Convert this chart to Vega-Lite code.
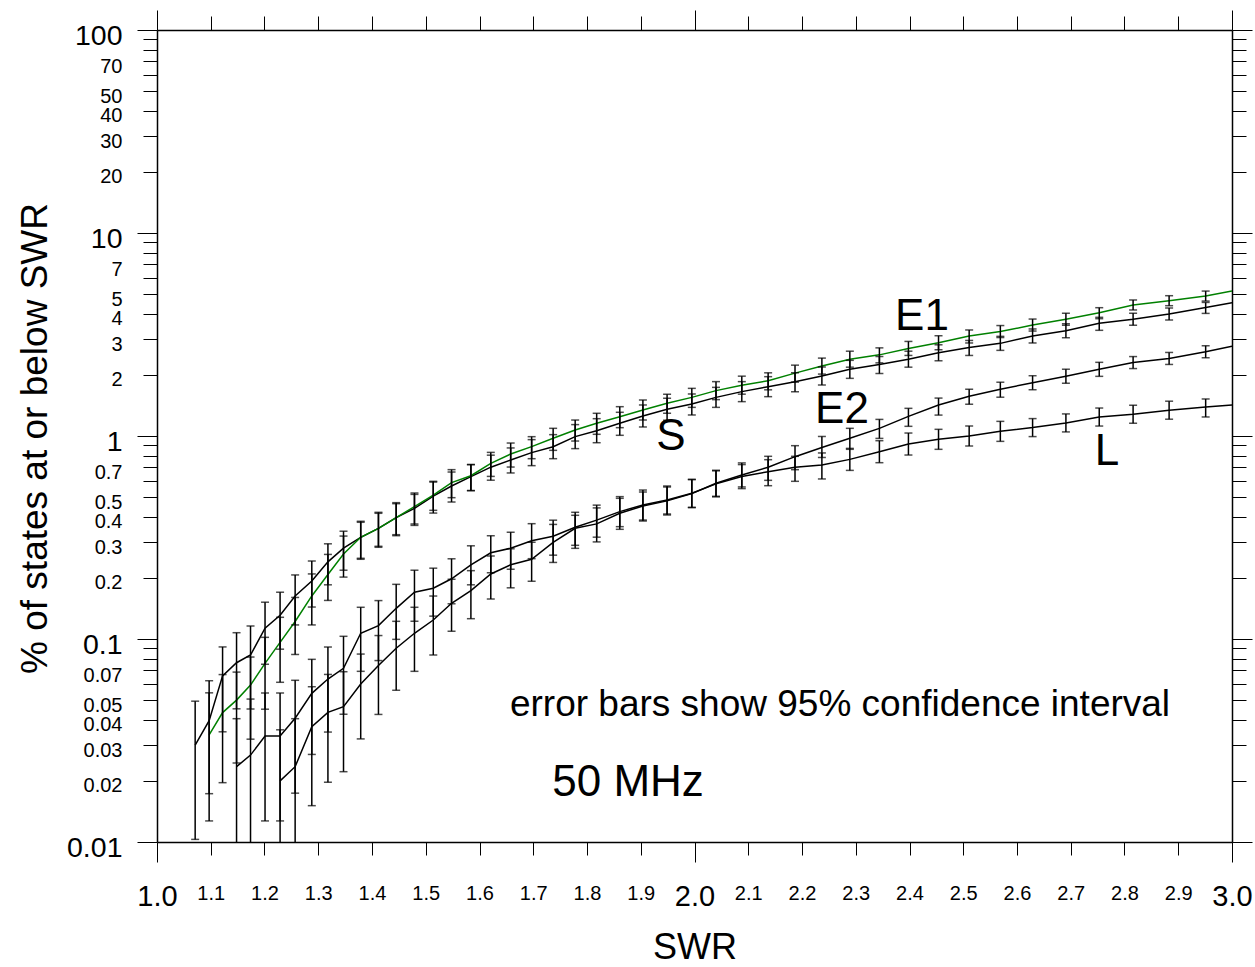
{
"$schema": "https://vega.github.io/schema/vega-lite/v6.json",
"width": 1075, "height": 812,
"autosize": {"type": "none"},
"padding": {"left": 157, "top": 30, "right": 23, "bottom": 125},
"background": "white",
"config": {"view": {"stroke": null}, "font": "Liberation Sans"},
"datasets": {
"pts": [
{"x":1.071,"s":"S","v":0.030,"lo":0.0103,"hi":0.0494},
{"x":1.097,"s":"S","v":0.0396,"lo":0.0173,"hi":0.0623},
{"x":1.122,"s":"S","v":0.0658,"lo":0.0349,"hi":0.0914},
{"x":1.148,"s":"S","v":0.0764,"lo":0.0453,"hi":0.1074},
{"x":1.174,"s":"S","v":0.0834,"lo":0.0452,"hi":0.1159},
{"x":1.201,"s":"S","v":0.113,"lo":0.0751,"hi":0.1518},
{"x":1.229,"s":"S","v":0.131,"lo":0.0891,"hi":0.170},
{"x":1.257,"s":"S","v":0.163,"lo":0.1173,"hi":0.2068},
{"x":1.288,"s":"S","v":0.193,"lo":0.1437,"hi":0.2422},
{"x":1.318,"s":"S","v":0.240,"lo":0.1849,"hi":0.2944},
{"x":1.347,"s":"S","v":0.280,"lo":0.2182,"hi":0.3396},
{"x":1.379,"s":"S","v":0.317,"lo":0.2470,"hi":0.3758},
{"x":1.412,"s":"S","v":0.351,"lo":0.2862,"hi":0.4208},
{"x":1.445,"s":"S","v":0.396,"lo":0.3265,"hi":0.4695},
{"x":1.479,"s":"S","v":0.440,"lo":0.3628,"hi":0.5157},
{"x":1.514,"s":"S","v":0.506,"lo":0.4172,"hi":0.5931},
{"x":1.548,"s":"S","v":0.567,"lo":0.4729,"hi":0.6646},
{"x":1.584,"s":"S","v":0.631,"lo":0.5383,"hi":0.7231},
{"x":1.621,"s":"S","v":0.702,"lo":0.6057,"hi":0.8045},
{"x":1.658,"s":"S","v":0.762,"lo":0.6575,"hi":0.8733},
{"x":1.697,"s":"S","v":0.828,"lo":0.7144,"hi":0.9597},
{"x":1.737,"s":"S","v":0.886,"lo":0.7731,"hi":1.0154},
{"x":1.778,"s":"S","v":0.993,"lo":0.8665,"hi":1.138},
{"x":1.818,"s":"S","v":1.062,"lo":0.9267,"hi":1.217},
{"x":1.861,"s":"S","v":1.155,"lo":1.0079,"hi":1.3085},
{"x":1.904,"s":"S","v":1.255,"lo":1.1078,"hi":1.4218},
{"x":1.949,"s":"S","v":1.353,"lo":1.1943,"hi":1.5328},
{"x":1.995,"s":"S","v":1.438,"lo":1.2693,"hi":1.6107},
{"x":2.040,"s":"S","v":1.55,"lo":1.3838,"hi":1.7362},
{"x":2.088,"s":"S","v":1.654,"lo":1.4767,"hi":1.8526},
{"x":2.137,"s":"S","v":1.75,"lo":1.5624,"hi":1.960},
{"x":2.187,"s":"S","v":1.85,"lo":1.6516,"hi":2.0489},
{"x":2.237,"s":"S","v":1.975,"lo":1.7833,"hi":2.1873},
{"x":2.289,"s":"S","v":2.13,"lo":1.923,"hi":2.359},
{"x":2.344,"s":"S","v":2.25,"lo":2.0316,"hi":2.4635},
{"x":2.398,"s":"S","v":2.39,"lo":2.1829,"hi":2.6168},
{"x":2.454,"s":"S","v":2.57,"lo":2.3472,"hi":2.8139},
{"x":2.511,"s":"S","v":2.73,"lo":2.4934,"hi":2.9558},
{"x":2.569,"s":"S","v":2.86,"lo":2.6415,"hi":3.0965},
{"x":2.629,"s":"S","v":3.11,"lo":2.8725,"hi":3.3672},
{"x":2.691,"s":"S","v":3.30,"lo":3.0479,"hi":3.5729},
{"x":2.753,"s":"S","v":3.59,"lo":3.3158,"hi":3.8427},
{"x":2.816,"s":"S","v":3.76,"lo":3.5127,"hi":4.0247},
{"x":2.883,"s":"S","v":3.99,"lo":3.7276,"hi":4.271},
{"x":2.951,"s":"S","v":4.30,"lo":4.0172,"hi":4.5507},
{"x":3.0,"s":"S","v":4.54},
{"x":1.097,"s":"E1","v":0.0337,"lo":0.0127,"hi":0.0543},
{"x":1.122,"s":"E1","v":0.0434,"lo":0.0196,"hi":0.0668},
{"x":1.148,"s":"E1","v":0.050,"lo":0.0245,"hi":0.0687},
{"x":1.174,"s":"E1","v":0.0593,"lo":0.0321,"hi":0.0815},
{"x":1.201,"s":"E1","v":0.0759,"lo":0.0451,"hi":0.1019},
{"x":1.229,"s":"E1","v":0.0963,"lo":0.0612,"hi":0.1279},
{"x":1.257,"s":"E1","v":0.122,"lo":0.0839,"hi":0.1602},
{"x":1.288,"s":"E1","v":0.163,"lo":0.1173,"hi":0.2092},
{"x":1.318,"s":"E1","v":0.208,"lo":0.1549,"hi":0.261},
{"x":1.347,"s":"E1","v":0.262,"lo":0.2018,"hi":0.3214},
{"x":1.379,"s":"E1","v":0.317,"lo":0.2498,"hi":0.3801},
{"x":1.412,"s":"E1","v":0.351,"lo":0.2830,"hi":0.4161},
{"x":1.445,"s":"E1","v":0.396,"lo":0.3228,"hi":0.4641},
{"x":1.479,"s":"E1","v":0.449,"lo":0.3686,"hi":0.5239},
{"x":1.514,"s":"E1","v":0.512,"lo":0.4304,"hi":0.598},
{"x":1.548,"s":"E1","v":0.589,"lo":0.4968,"hi":0.6827},
{"x":1.584,"s":"E1","v":0.637,"lo":0.5383,"hi":0.7231},
{"x":1.621,"s":"E1","v":0.733,"lo":0.6324,"hi":0.8304},
{"x":1.658,"s":"E1","v":0.815,"lo":0.7032,"hi":0.9233},
{"x":1.697,"s":"E1","v":0.886,"lo":0.7731,"hi":0.9924},
{"x":1.737,"s":"E1","v":0.974,"lo":0.8499,"hi":1.091},
{"x":1.778,"s":"E1","v":1.07,"lo":0.9445,"hi":1.1985},
{"x":1.818,"s":"E1","v":1.155,"lo":1.0195,"hi":1.2937},
{"x":1.861,"s":"E1","v":1.245,"lo":1.099,"hi":1.3945},
{"x":1.904,"s":"E1","v":1.343,"lo":1.199,"hi":1.5043},
{"x":1.949,"s":"E1","v":1.449,"lo":1.2936,"hi":1.6048},
{"x":1.995,"s":"E1","v":1.55,"lo":1.3838,"hi":1.7166},
{"x":2.040,"s":"E1","v":1.673,"lo":1.5106,"hi":1.8528},
{"x":2.088,"s":"E1","v":1.78,"lo":1.6072,"hi":1.9714},
{"x":2.137,"s":"E1","v":1.87,"lo":1.6885,"hi":2.0475},
{"x":2.187,"s":"E1","v":2.04,"lo":1.842,"hi":2.2336},
{"x":2.237,"s":"E1","v":2.21,"lo":2.0184,"hi":2.4197},
{"x":2.289,"s":"E1","v":2.39,"lo":2.1829,"hi":2.6168},
{"x":2.344,"s":"E1","v":2.51,"lo":2.2924,"hi":2.7176},
{"x":2.398,"s":"E1","v":2.70,"lo":2.4938,"hi":2.9233},
{"x":2.454,"s":"E1","v":2.88,"lo":2.66,"hi":3.1182},
{"x":2.511,"s":"E1","v":3.11,"lo":2.8725,"hi":3.329},
{"x":2.569,"s":"E1","v":3.27,"lo":3.055,"hi":3.5002},
{"x":2.629,"s":"E1","v":3.52,"lo":3.2885,"hi":3.7678},
{"x":2.691,"s":"E1","v":3.76,"lo":3.5127,"hi":4.0247},
{"x":2.753,"s":"E1","v":4.05,"lo":3.7837,"hi":4.2861},
{"x":2.816,"s":"E1","v":4.42,"lo":4.1765,"hi":4.6777},
{"x":2.883,"s":"E1","v":4.64,"lo":4.3844,"hi":4.9105},
{"x":2.951,"s":"E1","v":4.89,"lo":4.6206,"hi":5.1751},
{"x":3.0,"s":"E1","v":5.18},
{"x":1.148,"s":"L","v":0.0235,"lo":0.005,"hi":0.0405},
{"x":1.174,"s":"L","v":0.0268,"lo":0.005,"hi":0.0506},
{"x":1.201,"s":"L","v":0.0333,"lo":0.0127,"hi":0.0542},
{"x":1.229,"s":"L","v":0.0333,"lo":0.0127,"hi":0.0542},
{"x":1.257,"s":"L","v":0.0407,"lo":0.0174,"hi":0.0626},
{"x":1.288,"s":"L","v":0.054,"lo":0.0270,"hi":0.0794},
{"x":1.318,"s":"L","v":0.0635,"lo":0.0348,"hi":0.0913},
{"x":1.347,"s":"L","v":0.0717,"lo":0.0426,"hi":0.1031},
{"x":1.379,"s":"L","v":0.1067,"lo":0.0693,"hi":0.1433},
{"x":1.412,"s":"L","v":0.1164,"lo":0.0783,"hi":0.1546},
{"x":1.445,"s":"L","v":0.1416,"lo":0.0996,"hi":0.1859},
{"x":1.479,"s":"L","v":0.170,"lo":0.1223,"hi":0.2182},
{"x":1.514,"s":"L","v":0.178,"lo":0.1296,"hi":0.2233},
{"x":1.548,"s":"L","v":0.198,"lo":0.1491,"hi":0.2484},
{"x":1.584,"s":"L","v":0.232,"lo":0.1849,"hi":0.2878},
{"x":1.621,"s":"L","v":0.266,"lo":0.212,"hi":0.3226},
{"x":1.658,"s":"L","v":0.280,"lo":0.2206,"hi":0.3357},
{"x":1.697,"s":"L","v":0.305,"lo":0.2487,"hi":0.3699},
{"x":1.737,"s":"L","v":0.321,"lo":0.2588,"hi":0.3849},
{"x":1.778,"s":"L","v":0.355,"lo":0.2894,"hi":0.4209},
{"x":1.818,"s":"L","v":0.385,"lo":0.3174,"hi":0.4565},
{"x":1.861,"s":"L","v":0.424,"lo":0.3576,"hi":0.5027},
{"x":1.904,"s":"L","v":0.457,"lo":0.3855,"hi":0.5418},
{"x":1.949,"s":"L","v":0.484,"lo":0.4129,"hi":0.5673},
{"x":1.995,"s":"L","v":0.522,"lo":0.4454,"hi":0.6118},
{"x":2.040,"s":"L","v":0.581,"lo":0.5013,"hi":0.6734},
{"x":2.088,"s":"L","v":0.631,"lo":0.5506,"hi":0.7231},
{"x":2.137,"s":"L","v":0.667,"lo":0.5691,"hi":0.7644},
{"x":2.187,"s":"L","v":0.701,"lo":0.5981,"hi":0.7942},
{"x":2.237,"s":"L","v":0.720,"lo":0.6143,"hi":0.8251},
{"x":2.289,"s":"L","v":0.767,"lo":0.677,"hi":0.8689},
{"x":2.344,"s":"L","v":0.837,"lo":0.7388,"hi":0.9482},
{"x":2.398,"s":"L","v":0.913,"lo":0.8059,"hi":1.0343},
{"x":2.454,"s":"L","v":0.963,"lo":0.8597,"hi":1.0787},
{"x":2.511,"s":"L","v":1.0,"lo":0.8928,"hi":1.1201},
{"x":2.569,"s":"L","v":1.054,"lo":0.941,"hi":1.1806},
{"x":2.629,"s":"L","v":1.10,"lo":0.9932,"hi":1.2183},
{"x":2.691,"s":"L","v":1.16,"lo":1.0474,"hi":1.2847},
{"x":2.753,"s":"L","v":1.24,"lo":1.1196,"hi":1.3733},
{"x":2.816,"s":"L","v":1.28,"lo":1.1558,"hi":1.4176},
{"x":2.883,"s":"L","v":1.34,"lo":1.2099,"hi":1.4841},
{"x":2.951,"s":"L","v":1.39,"lo":1.241,"hi":1.5219},
{"x":3.0,"s":"L","v":1.42},
{"x":1.229,"s":"E2","v":0.020,"lo":0.005,"hi":0.0357},
{"x":1.257,"s":"E2","v":0.0235,"lo":0.005,"hi":0.0405},
{"x":1.288,"s":"E2","v":0.037,"lo":0.0151,"hi":0.0582},
{"x":1.318,"s":"E2","v":0.0435,"lo":0.0197,"hi":0.0669},
{"x":1.347,"s":"E2","v":0.0464,"lo":0.0222,"hi":0.069},
{"x":1.379,"s":"E2","v":0.060,"lo":0.0322,"hi":0.0843},
{"x":1.412,"s":"E2","v":0.074,"lo":0.0425,"hi":0.104},
{"x":1.445,"s":"E2","v":0.090,"lo":0.0559,"hi":0.1222},
{"x":1.479,"s":"E2","v":0.1067,"lo":0.0693,"hi":0.1433},
{"x":1.514,"s":"E2","v":0.124,"lo":0.0834,"hi":0.1628},
{"x":1.548,"s":"E2","v":0.150,"lo":0.1092,"hi":0.1969},
{"x":1.584,"s":"E2","v":0.173,"lo":0.1259,"hi":0.2171},
{"x":1.621,"s":"E2","v":0.209,"lo":0.1574,"hi":0.2564},
{"x":1.658,"s":"E2","v":0.232,"lo":0.1787,"hi":0.2782},
{"x":1.697,"s":"E2","v":0.247,"lo":0.1925,"hi":0.2996},
{"x":1.737,"s":"E2","v":0.299,"lo":0.2383,"hi":0.3668},
{"x":1.778,"s":"E2","v":0.351,"lo":0.2797,"hi":0.4068},
{"x":1.818,"s":"E2","v":0.369,"lo":0.3008,"hi":0.4424},
{"x":1.861,"s":"E2","v":0.416,"lo":0.347,"hi":0.4932},
{"x":1.904,"s":"E2","v":0.452,"lo":0.3812,"hi":0.5298},
{"x":1.949,"s":"E2","v":0.479,"lo":0.4087,"hi":0.5614},
{"x":1.995,"s":"E2","v":0.520,"lo":0.4436,"hi":0.6095},
{"x":2.040,"s":"E2","v":0.585,"lo":0.5047,"hi":0.678},
{"x":2.088,"s":"E2","v":0.643,"lo":0.5611,"hi":0.7369},
{"x":2.137,"s":"E2","v":0.701,"lo":0.6048,"hi":0.7942},
{"x":2.187,"s":"E2","v":0.791,"lo":0.6825,"hi":0.8961},
{"x":2.237,"s":"E2","v":0.878,"lo":0.7839,"hi":0.9947},
{"x":2.289,"s":"E2","v":0.974,"lo":0.8597,"hi":1.091},
{"x":2.344,"s":"E2","v":1.09,"lo":0.9731,"hi":1.2072},
{"x":2.398,"s":"E2","v":1.25,"lo":1.116,"hi":1.3686},
{"x":2.454,"s":"E2","v":1.42,"lo":1.2677,"hi":1.5374},
{"x":2.511,"s":"E2","v":1.57,"lo":1.4339,"hi":1.6998},
{"x":2.569,"s":"E2","v":1.70,"lo":1.5527,"hi":1.8406},
{"x":2.629,"s":"E2","v":1.83,"lo":1.6902,"hi":1.9813},
{"x":2.691,"s":"E2","v":1.97,"lo":1.8195,"hi":2.1329},
{"x":2.753,"s":"E2","v":2.13,"lo":1.9673,"hi":2.3062},
{"x":2.816,"s":"E2","v":2.30,"lo":2.1488,"hi":2.4619},
{"x":2.883,"s":"E2","v":2.41,"lo":2.2515,"hi":2.5797},
{"x":2.951,"s":"E2","v":2.60,"lo":2.429,"hi":2.783},
{"x":3.0,"s":"E2","v":2.77}
],
"ann": [
{"x":2.4233,"y":3.857,"label":"E1"},
{"x":1.9563,"y":0.989,"label":"S"},
{"x":2.2744,"y":1.343,"label":"E2"},
{"x":2.7674,"y":0.834,"label":"L"}
],
"note": [{"x":2.2707,"y":0.0473,"label":"error bars show 95% confidence interval"}],
"freq": [{"x":1.8763,"y":0.01953,"label":"50 MHz"}]
},
"layer": [
{"data": {"name": "pts"},
 "mark": {"type": "line", "strokeWidth": 1.5, "clip": true},
 "encoding": {
  "x": {"field": "x", "type": "quantitative", "scale": {"domain": [1, 3], "nice": false, "zero": false},
   "axis": {"orient": "bottom", "values": [1,1.1,1.2,1.3,1.4,1.5,1.6,1.7,1.8,1.9,2,2.1,2.2,2.3,2.4,2.5,2.6,2.7,2.8,2.9,3], "format": ".1f",
    "labelFontSize": {"condition": {"test": "datum.value == 1 || datum.value == 2 || datum.value == 3", "value": 29}, "value": 20},
    "tickSize": {"condition": {"test": "datum.value == 1 || datum.value == 2 || datum.value == 3", "value": 20}, "value": 13},
    "labelPadding": {"condition": {"test": "datum.value == 1 || datum.value == 2 || datum.value == 3", "value": 20}, "value": 28},
    "labelColor": "black", "labelFont": "Liberation Sans", "labelFlush": false, "labelOverlap": false, "labelBound": false,
    "tickColor": "black", "tickWidth": 1, "domainColor": "black", "domainWidth": 1.5, "grid": false,
    "title": "SWR", "titleFontSize": 36, "titleFontWeight": "normal", "titleColor": "black", "titleFont": "Liberation Sans",
    "titleX": 537.5, "titleY": 116, "titleBaseline": "alphabetic", "titleAlign": "center"}},
  "y": {"field": "v", "type": "quantitative", "scale": {"type": "log", "domain": [0.01, 100], "nice": false},
   "axis": {"orient": "left", "values": [0.01,0.02,0.03,0.04,0.05,0.06,0.07,0.08,0.09,0.1,0.2,0.3,0.4,0.5,0.6,0.7,0.8,0.9,1,2,3,4,5,6,7,8,9,10,20,30,40,50,60,70,80,90,100], "format": "~g",
    "labelExpr": "indexof([0.06,0.08,0.09,0.6,0.8,0.9,6,8,9,60,80,90], datum.value) >= 0 ? '' : datum.label",
    "labelFontSize": {"condition": {"test": "indexof([0.01,0.1,1,10,100], datum.value) >= 0", "value": 28.5}, "value": 20},
    "tickSize": {"condition": {"test": "indexof([0.01,0.1,1,10,100], datum.value) >= 0", "value": 20}, "value": 14},
    "labelPadding": {"condition": {"test": "indexof([0.01,0.1,1,10,100], datum.value) >= 0", "value": 15}, "value": 21},
    "labelOffset": 5, "labelColor": "black", "labelFont": "Liberation Sans", "labelOverlap": false, "labelFlush": false, "labelBound": false,
    "tickColor": "black", "tickWidth": 1, "domainColor": "black", "domainWidth": 1.5, "grid": false,
    "title": "% of states at or below SWR", "titleFontSize": 37, "titleFontWeight": "normal", "titleColor": "black", "titleFont": "Liberation Sans",
    "titleX": -122, "titleY": 408, "titleBaseline": "middle", "titleAngle": -90, "titleAlign": "center"}},
  "color": {"field": "s", "type": "nominal", "scale": {"domain": ["S","E1","E2","L"], "range": ["#000000","#008000","#000000","#000000"]}, "legend": null}
 }},
{"data": {"name": "pts"},
 "transform": [{"filter": "isValid(datum.lo)"}],
 "mark": {"type": "rule", "strokeWidth": 1.5, "color": "black", "clip": true},
 "encoding": {
  "x": {"field": "x", "type": "quantitative", "scale": {"domain": [1, 3], "nice": false, "zero": false}, "axis": null},
  "y": {"field": "lo", "type": "quantitative", "scale": {"type": "log", "domain": [0.01, 100], "nice": false}, "axis": null},
  "y2": {"field": "hi"}
 }},
{"data": {"name": "pts"},
 "transform": [{"filter": "isValid(datum.lo)"}],
 "mark": {"type": "tick", "orient": "horizontal", "size": 8, "thickness": 1.5, "color": "black", "clip": true},
 "encoding": {
  "x": {"field": "x", "type": "quantitative", "scale": {"domain": [1, 3], "nice": false, "zero": false}, "axis": null},
  "y": {"field": "hi", "type": "quantitative", "scale": {"type": "log", "domain": [0.01, 100], "nice": false}, "axis": null}
 }},
{"data": {"name": "pts"},
 "transform": [{"filter": "isValid(datum.lo)"}],
 "mark": {"type": "tick", "orient": "horizontal", "size": 8, "thickness": 1.5, "color": "black", "clip": true},
 "encoding": {
  "x": {"field": "x", "type": "quantitative", "scale": {"domain": [1, 3], "nice": false, "zero": false}, "axis": null},
  "y": {"field": "lo", "type": "quantitative", "scale": {"type": "log", "domain": [0.01, 100], "nice": false}, "axis": null}
 }},
{"data": {"name": "ann"},
 "mark": {"type": "text", "fontSize": 44, "font": "Liberation Sans", "color": "black", "align": "center", "baseline": "middle"},
 "encoding": {
  "x": {"field": "x", "type": "quantitative", "scale": {"domain": [1, 3], "nice": false, "zero": false}, "axis": null},
  "y": {"field": "y", "type": "quantitative", "scale": {"type": "log", "domain": [0.01, 100], "nice": false}, "axis": null},
  "text": {"field": "label"}
 }},
{"data": {"name": "note"},
 "mark": {"type": "text", "fontSize": 37, "font": "Liberation Sans", "color": "black", "align": "center", "baseline": "middle"},
 "encoding": {
  "x": {"field": "x", "type": "quantitative", "scale": {"domain": [1, 3], "nice": false, "zero": false}, "axis": null},
  "y": {"field": "y", "type": "quantitative", "scale": {"type": "log", "domain": [0.01, 100], "nice": false}, "axis": null},
  "text": {"field": "label"}
 }},
{"data": {"name": "freq"},
 "mark": {"type": "text", "fontSize": 44, "font": "Liberation Sans", "color": "black", "align": "center", "baseline": "middle"},
 "encoding": {
  "x": {"field": "x", "type": "quantitative", "scale": {"domain": [1, 3], "nice": false, "zero": false}, "axis": null},
  "y": {"field": "y", "type": "quantitative", "scale": {"type": "log", "domain": [0.01, 100], "nice": false}, "axis": null},
  "text": {"field": "label"}
 }},
{"data": {"name": "ann"},
 "mark": {"type": "point", "opacity": 0},
 "encoding": {
  "x": {"field": "x", "type": "quantitative", "scale": {"domain": [1, 3], "nice": false, "zero": false},
   "axis": {"orient": "top", "values": [1,1.1,1.2,1.3,1.4,1.5,1.6,1.7,1.8,1.9,2,2.1,2.2,2.3,2.4,2.5,2.6,2.7,2.8,2.9,3], "labels": false, "title": null,
    "tickSize": {"condition": {"test": "datum.value == 1 || datum.value == 2 || datum.value == 3", "value": 20}, "value": 14},
    "tickColor": "black", "tickWidth": 1, "domainColor": "black", "domainWidth": 1.5, "grid": false}},
  "y": {"field": "y", "type": "quantitative", "scale": {"type": "log", "domain": [0.01, 100], "nice": false},
   "axis": {"orient": "right", "values": [0.01,0.02,0.03,0.04,0.05,0.06,0.07,0.08,0.09,0.1,0.2,0.3,0.4,0.5,0.6,0.7,0.8,0.9,1,2,3,4,5,6,7,8,9,10,20,30,40,50,60,70,80,90,100], "labels": false, "title": null,
    "tickSize": {"condition": {"test": "indexof([0.01,0.1,1,10,100], datum.value) >= 0", "value": 20}, "value": 14},
    "tickColor": "black", "tickWidth": 1, "domainColor": "black", "domainWidth": 1.5, "grid": false}}
 }}
],
"resolve": {"axis": {"x": "independent", "y": "independent"}}
}
